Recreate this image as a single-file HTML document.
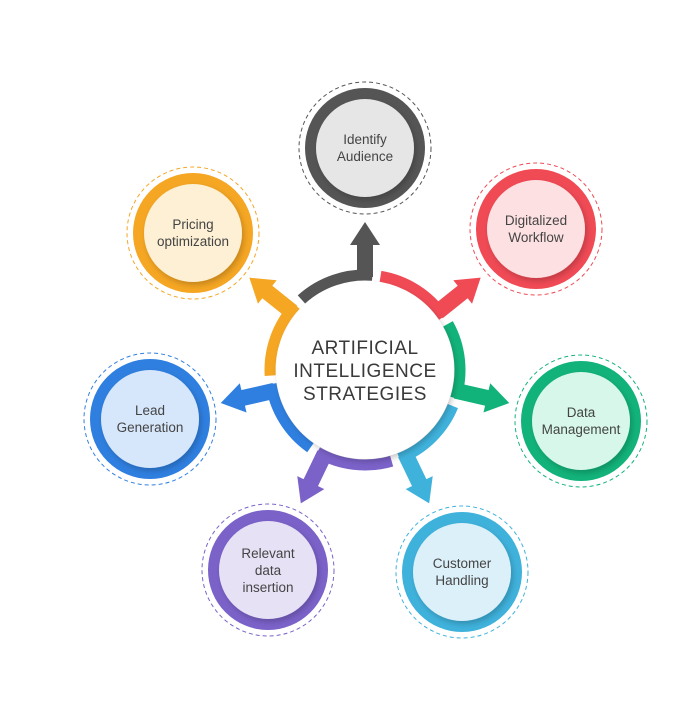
<!DOCTYPE html>
<html><head><meta charset="utf-8"><style>
body{margin:0;background:#fff;}
svg{display:block;font-family:"Liberation Sans",sans-serif;}
.t{font-size:13.5px;fill:#444;text-anchor:middle;}
.c{font-size:19px;fill:#3a3a3a;text-anchor:middle;letter-spacing:0.5px;}
</style></head><body>
<svg width="694" height="720" viewBox="0 0 694 720">
<defs>
<filter id="sh" x="-30%" y="-30%" width="160%" height="160%"><feDropShadow dx="2" dy="3" stdDeviation="3" flood-color="#000" flood-opacity="0.2"/></filter>
<g id="arr"><rect x="357" y="243" width="16" height="34"/><polygon points="350,245 380,245 365,222"/></g>
</defs>
<g fill="none" stroke-width="11">
<circle cx="365" cy="370" r="95" stroke="#555" stroke-dasharray="77 600" transform="rotate(-132 365 370)"/>
<circle cx="365" cy="370" r="95" stroke="#f04a55" stroke-dasharray="77 600" transform="rotate(-80.6 365 370)"/>
<circle cx="365" cy="370" r="95" stroke="#12b37a" stroke-dasharray="77 600" transform="rotate(-29.1 365 370)"/>
<circle cx="365" cy="370" r="95" stroke="#3fb2dc" stroke-dasharray="77 600" transform="rotate(22.3 365 370)"/>
<circle cx="365" cy="370" r="95" stroke="#7b62c9" stroke-dasharray="77 600" transform="rotate(73.7 365 370)"/>
<circle cx="365" cy="370" r="95" stroke="#2f7fe0" stroke-dasharray="77 600" transform="rotate(125.1 365 370)"/>
<circle cx="365" cy="370" r="95" stroke="#f5a623" stroke-dasharray="77 600" transform="rotate(176.6 365 370)"/>
</g>
<use href="#arr" fill="#555"/>
<use href="#arr" fill="#f04a55" transform="rotate(51.4 365 370)"/>
<use href="#arr" fill="#12b37a" transform="rotate(102.9 365 370)"/>
<use href="#arr" fill="#3fb2dc" transform="rotate(154.3 365 370)"/>
<use href="#arr" fill="#7b62c9" transform="rotate(205.7 365 370)"/>
<use href="#arr" fill="#2f7fe0" transform="rotate(257.1 365 370)"/>
<use href="#arr" fill="#f5a623" transform="rotate(308.6 365 370)"/>
<circle cx="365" cy="370" r="89" fill="#fff" filter="url(#sh)"/>
<text class="c" x="365" y="354">ARTIFICIAL</text>
<text class="c" x="365" y="377">INTELLIGENCE</text>
<text class="c" x="365" y="400">STRATEGIES</text>

<g>
<circle cx="365" cy="148" r="66" fill="none" stroke="#555" stroke-dasharray="4 3"/>
<circle cx="365" cy="148" r="60" fill="#555"/>
<circle cx="365" cy="148" r="49" fill="#e6e6e6" filter="url(#sh)"/>
<text class="t" x="365" y="144">Identify</text><text class="t" x="365" y="161">Audience</text>

<circle cx="536" cy="229" r="66" fill="none" stroke="#f04a55" stroke-dasharray="4 3"/>
<circle cx="536" cy="229" r="60" fill="#f04a55"/>
<circle cx="536" cy="229" r="49" fill="#fde0e2" filter="url(#sh)"/>
<text class="t" x="536" y="225">Digitalized</text><text class="t" x="536" y="242">Workflow</text>

<circle cx="581" cy="421" r="66" fill="none" stroke="#12b37a" stroke-dasharray="4 3"/>
<circle cx="581" cy="421" r="60" fill="#12b37a"/>
<circle cx="581" cy="421" r="49" fill="#d6f7ea" filter="url(#sh)"/>
<text class="t" x="581" y="417">Data</text><text class="t" x="581" y="434">Management</text>

<circle cx="462" cy="572" r="66" fill="none" stroke="#3fb2dc" stroke-dasharray="4 3"/>
<circle cx="462" cy="572" r="60" fill="#3fb2dc"/>
<circle cx="462" cy="572" r="49" fill="#dcf0f9" filter="url(#sh)"/>
<text class="t" x="462" y="568">Customer</text><text class="t" x="462" y="585">Handling</text>

<circle cx="268" cy="570" r="66" fill="none" stroke="#7b62c9" stroke-dasharray="4 3"/>
<circle cx="268" cy="570" r="60" fill="#7b62c9"/>
<circle cx="268" cy="570" r="49" fill="#e6e1f5" filter="url(#sh)"/>
<text class="t" x="268" y="558">Relevant</text><text class="t" x="268" y="575">data</text><text class="t" x="268" y="592">insertion</text>

<circle cx="150" cy="419" r="66" fill="none" stroke="#2f7fe0" stroke-dasharray="4 3"/>
<circle cx="150" cy="419" r="60" fill="#2f7fe0"/>
<circle cx="150" cy="419" r="49" fill="#d6e6fb" filter="url(#sh)"/>
<text class="t" x="150" y="415">Lead</text><text class="t" x="150" y="432">Generation</text>

<circle cx="193" cy="233" r="66" fill="none" stroke="#f5a623" stroke-dasharray="4 3"/>
<circle cx="193" cy="233" r="60" fill="#f5a623"/>
<circle cx="193" cy="233" r="49" fill="#fdf0d5" filter="url(#sh)"/>
<text class="t" x="193" y="229">Pricing</text><text class="t" x="193" y="246">optimization</text>
</g>
</svg>
</body></html>
